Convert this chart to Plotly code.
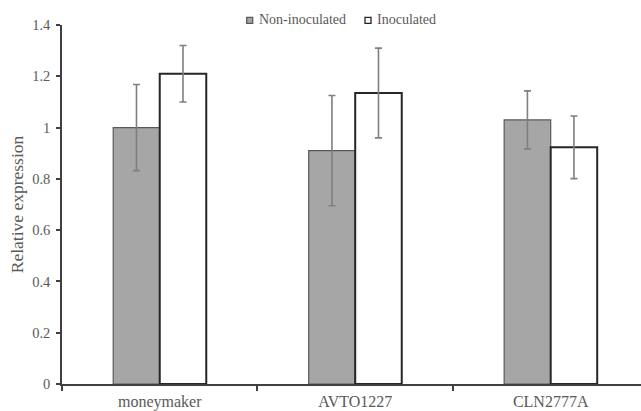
import plotly.graph_objects as go

categories = ["moneymaker", "AVTO1227", "CLN2777A"]
series_names = ["Non-inoculated", "Inoculated"]
non_inoculated = [1.00, 0.91, 1.03]
non_inoculated_err = [0.168, 0.215, 0.113]
inoculated = [1.21, 1.135, 0.923]
inoculated_err = [0.11, 0.175, 0.122]
y_ticks = [0, 0.2, 0.4, 0.6, 0.8, 1, 1.2, 1.4]

FONT = "Liberation Serif"
TXT = "#595959"
FILLS = ["#A6A6A6", "#FFFFFF"]
EDGES = ["#595959", "#262626"]

fig = go.Figure()
fig.add_trace(go.Bar(
    x=categories, y=non_inoculated, name=series_names[0], showlegend=False,
    marker=dict(color=FILLS[0], line=dict(color=EDGES[0], width=1.2)),
    error_y=dict(type="data", array=non_inoculated_err, color="#7F7F7F", thickness=1.6, width=3.5),
))
fig.add_trace(go.Bar(
    x=categories, y=inoculated, name=series_names[1], showlegend=False,
    marker=dict(color=FILLS[1], line=dict(color=EDGES[1], width=2)),
    error_y=dict(type="data", array=inoculated_err, color="#7F7F7F", thickness=1.6, width=3.5),
))

# Legend drawn as small squares + text above the plot area (paper coordinates)
L, W = 62, 579      # plot area left / width in px
BOT, H = 384, 359   # plot area bottom / height in px
def px_x(v): return (v - L) / W
def px_y(v): return (BOT - v) / H

legend_items = [(246.7, 256.7), (365.0, 375.0)]
for (sq_x, tx_x), name, fill, edge in zip(legend_items, series_names, FILLS, EDGES):
    fig.add_shape(type="rect", xref="paper", yref="paper",
                  x0=px_x(sq_x), x1=px_x(sq_x + 6), y0=px_y(23.3), y1=px_y(17.3),
                  fillcolor=fill, line=dict(color=edge, width=1.3))
    fig.add_annotation(text=name, xref="paper", yref="paper", x=px_x(tx_x), y=px_y(20),
                       xanchor="left", yanchor="middle", showarrow=False,
                       font=dict(family=FONT, size=14, color=TXT))

fig.update_layout(
    width=641, height=411,
    margin=dict(l=62, r=0, t=25, b=27),
    paper_bgcolor="white", plot_bgcolor="white",
    barmode="group", bargap=0.524, bargroupgap=0,
    font=dict(family=FONT, size=15, color=TXT),
    showlegend=False,
    xaxis=dict(
        range=[-0.5, 2.462], showline=True, linecolor="#404040", linewidth=1.6,
        ticks="outside", tickson="boundaries", ticklen=5, tickcolor="#404040", tickwidth=1.5,
        tickfont=dict(family=FONT, size=16, color=TXT), showgrid=False, zeroline=False,
        ticklabelstandoff=2,
    ),
    yaxis=dict(
        range=[0, 1.4], tickvals=y_ticks, ticktext=[f"{v:g}" for v in y_ticks],
        showline=True, linecolor="#404040", linewidth=1.6,
        ticks="outside", ticklen=4, tickcolor="#404040", tickwidth=1.5,
        tickfont=dict(family=FONT, size=14.5, color=TXT), showgrid=False, zeroline=False,
        ticklabelstandoff=3,
        title=dict(text="Relative expression", font=dict(family=FONT, size=17.5, color=TXT), standoff=4),
    ),
)

fig.write_html("out.html")
